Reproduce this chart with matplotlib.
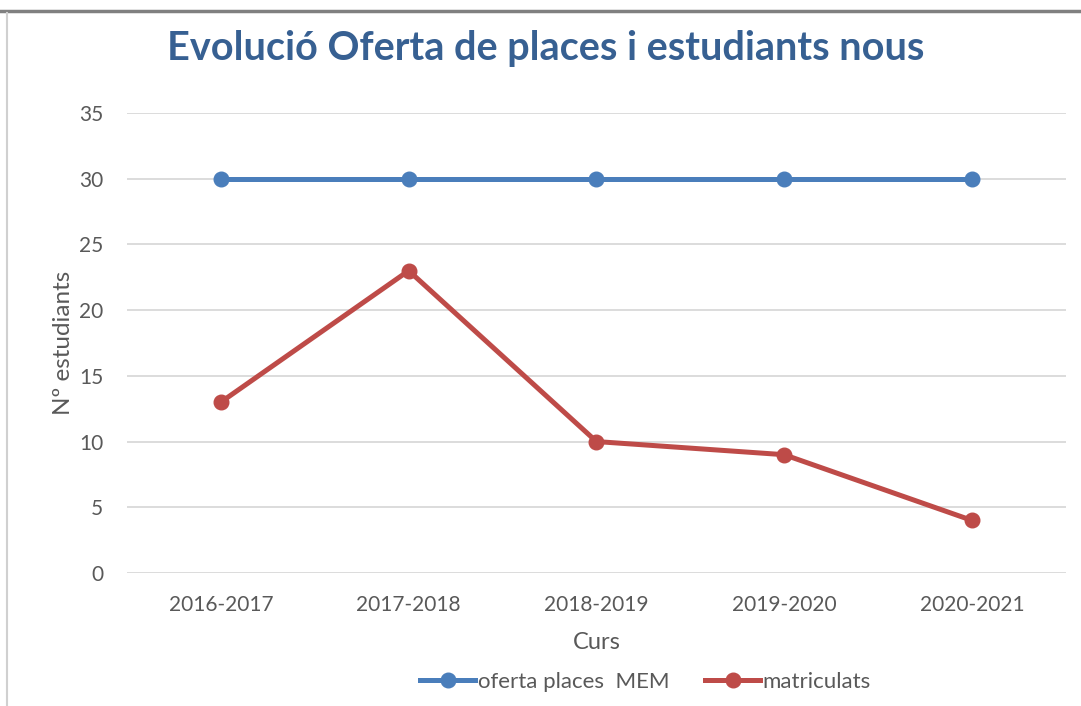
import matplotlib
matplotlib.use("Agg")
import matplotlib.pyplot as plt
from matplotlib.lines import Line2D

cursos = ["2016-2017", "2017-2018", "2018-2019", "2019-2020", "2020-2021"]
oferta = [30, 30, 30, 30, 30]
matriculats = [13, 23, 10, 9, 4]

blue = "#4a7ebb"
red = "#be4b48"
text_grey = "#595959"
grid_grey = "#d9d9d9"

plt.rcParams["font.family"] = ["Lato", "DejaVu Sans"]

fig = plt.figure(figsize=(10.81, 7.06), dpi=100)
ax = fig.add_axes([0.1175, 0.1884, 0.8685, 0.6516])

x = range(len(cursos))
ax.plot(x, oferta, color=blue, lw=3.6, marker="o", ms=10.5, label="oferta places  MEM", zorder=3)
ax.plot(x, matriculats, color=red, lw=3.6, marker="o", ms=10.5, label="matriculats", zorder=3)

ax.set_xlim(-0.5, len(cursos) - 0.5)
ax.set_ylim(0, 35)
ax.set_yticks(range(0, 36, 5))
ax.set_xticks(list(x))
ax.set_xticklabels(cursos)
ax.yaxis.grid(True, color=grid_grey, lw=1.3)
ax.set_axisbelow(True)
for s in ax.spines.values():
    s.set_visible(False)
ax.tick_params(length=0, labelsize=15, colors=text_grey)
ax.tick_params(axis="y", pad=17)
ax.tick_params(axis="x", pad=16)

ax.set_ylabel("Nº estudiants", fontsize=17.5, color=text_grey, labelpad=4)
ax.set_xlabel("Curs", fontsize=17, color=text_grey, labelpad=12)

fig.text(0.505, 0.931, "Evolució Oferta de places i estudiants nous", ha="center", va="center",
         fontsize=28.5, fontweight="bold", color="#376092")

handles = [Line2D([], [], color=blue, lw=3.6, marker="o", ms=10.5),
           Line2D([], [], color=red, lw=3.6, marker="o", ms=10.5)]
fig.legend(handles, ["oferta places  MEM", "matriculats"], loc="center",
           bbox_to_anchor=(0.597, 0.034), ncol=2, frameon=False, fontsize=16,
           labelcolor=text_grey, handlelength=2.5, handletextpad=0.1, columnspacing=1.6)

# frame lines of the original screenshot
fig.add_artist(Line2D([0, 1], [0.984, 0.984], color="#808080", lw=2.5, transform=fig.transFigure))
fig.add_artist(Line2D([0.0065, 0.0065], [0, 0.982], color="#d0d0d0", lw=1.5, transform=fig.transFigure))

fig.savefig("out.png", dpi=100)
